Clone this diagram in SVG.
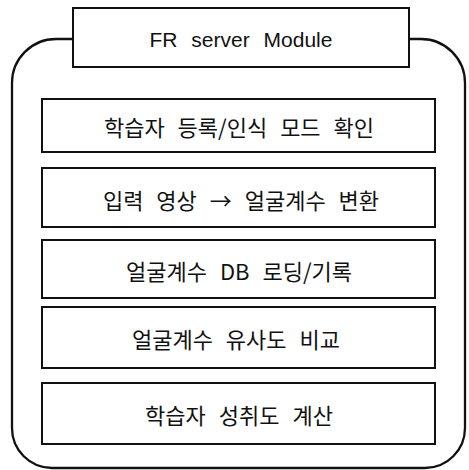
<svg xmlns="http://www.w3.org/2000/svg" width="469" height="470" viewBox="0 0 469 470">
<style>
.box{fill:#fff;stroke:#111;stroke-width:2}
.outer{fill:none;stroke:#111;stroke-width:2.3}
.ko{font-family:"Noto Sans CJK KR","Noto Sans",sans-serif;font-size:22px;fill:#111;text-anchor:middle;dominant-baseline:central;word-spacing:8px}
.en{font-family:"Liberation Sans",Arial,sans-serif;font-size:21px;fill:#111;text-anchor:middle;word-spacing:8px}
</style>
<rect width="469" height="470" fill="#fff"/>
<g id="connectors">
<path class="outer" d="M73 39 H56 A44 44 0 0 0 12 83 V428 A40 40 0 0 0 52 468 H425 A40 40 0 0 0 465 428 V83 A44 44 0 0 0 421 39 H409"/>
</g>
<g id="title">
<rect class="box" x="73" y="8" width="336" height="59"/>
<text class="en" x="241" y="47">FR server Module</text>
</g>
<g id="step1">
<rect class="box" x="42" y="99" width="393" height="53"/>
<text class="ko" x="239" y="126">학습자 등록/인식 모드 확인</text>
</g>
<g id="step2">
<rect class="box" x="42" y="168" width="393" height="59"/>
<text class="ko" x="241" y="199">입력 영상 → 얼굴계수 변환</text>
</g>
<g id="step3">
<rect class="box" x="42" y="240" width="393" height="58"/>
<text class="ko" x="239" y="270">얼굴계수 DB 로딩/기록</text>
</g>
<g id="step4">
<rect class="box" x="42" y="307" width="393" height="61"/>
<text class="ko" x="236" y="338">얼굴계수 유사도 비교</text>
</g>
<g id="step5">
<rect class="box" x="42" y="383" width="393" height="61"/>
<text class="ko" x="239" y="414">학습자 성취도 계산</text>
</g>
</svg>
